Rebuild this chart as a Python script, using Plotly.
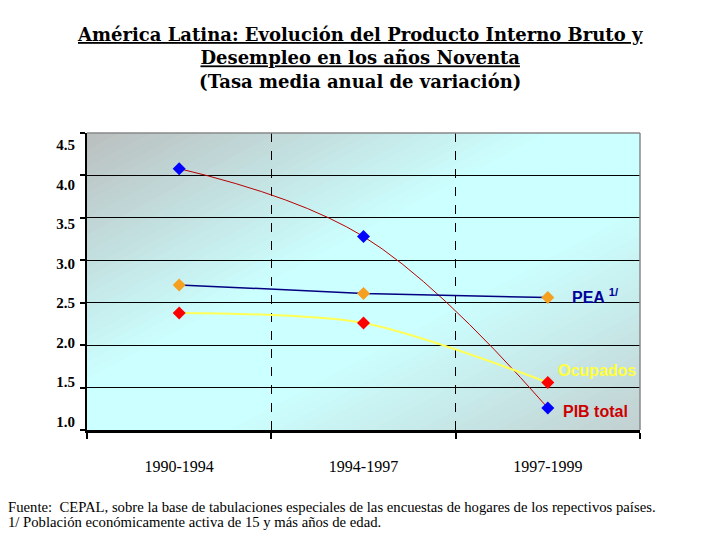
import plotly.graph_objects as go

# ---------------- data ----------------
periods = ["1990-1994", "1994-1997", "1997-1999"]
pib_total = [4.08, 3.28, 1.26]
pea = [2.71, 2.61, 2.56]
ocupados = [2.38, 2.26, 1.56]
ytick_vals = [1.0, 1.5, 2.0, 2.5, 3.0, 3.5, 4.0, 4.5]
ytick_text = ["1.0", "1.5", "2.0", "2.5", "3.0", "3.5", "4.0", "4.5"]

title_lines = [
    "<u>América Latina: Evolución del Producto Interno Bruto y</u>",
    "<u>Desempleo en los años Noventa</u>",
    "(Tasa media anual de variación)",
]
notes = [
    "Fuente:  CEPAL, sobre la base de tabulaciones especiales de las encuestas de hogares de los repectivos países.",
    "1/ Población económicamente activa de 15 y más años de edad.",
]

# ---------------- geometry helpers ----------------
W, H = 720, 540
L, R, T, B = 87, 80, 133, 110
PW, PH = W - L - R, H - T - B


def px(x):
    return (x - L) / PW


def py(y):
    return (H - B - y) / PH


SERIF = "Liberation Serif, Times New Roman, serif"
SANS = "Liberation Sans, Arial, sans-serif"

fig = go.Figure()

# ---------------- background gradient (diagonal) ----------------
stops = [
    (0.00, (186, 190, 190)),
    (0.42, (204, 255, 255)),
    (0.62, (204, 255, 255)),
    (1.00, (194, 208, 208)),
]


def col(t):
    for (t0, c0), (t1, c1) in zip(stops[:-1], stops[1:]):
        if t <= t1:
            f = (t - t0) / (t1 - t0) if t1 > t0 else 0
            c = [round(a + (b - a) * f) for a, b in zip(c0, c1)]
            return "rgb(%d,%d,%d)" % tuple(c)
    return "rgb(%d,%d,%d)" % stops[-1][1]


def clip(poly, fn):
    out = []
    n = len(poly)
    for i in range(n):
        p, q = poly[i], poly[(i + 1) % n]
        fp, fq = fn(p), fn(q)
        if fp >= 0:
            out.append(p)
        if (fp >= 0) != (fq >= 0):
            t = fp / (fp - fq)
            out.append((p[0] + (q[0] - p[0]) * t, p[1] + (q[1] - p[1]) * t))
    return out


square = [(0, 0), (1, 0), (1, 1), (0, 1)]
N = 70
for i in range(N):
    s0 = 2 * i / N
    s1 = 2 * (i + 1) / N + 0.01
    poly = clip(square, lambda p, s0=s0: (p[0] + 1 - p[1]) - s0)
    poly = clip(poly, lambda p, s1=s1: s1 - (p[0] + 1 - p[1]))
    if len(poly) < 3:
        continue
    path = "M " + " L ".join("%.5f,%.5f" % p for p in poly) + " Z"
    fig.add_shape(type="path", path=path, xref="paper", yref="paper",
                  fillcolor=col((2 * i + 1) / (2 * N)), line=dict(width=0),
                  layer="below")

# ---------------- series ----------------
fig.add_trace(go.Scatter(
    x=periods, y=pib_total, mode="lines+markers", name="PIB total",
    line=dict(color="#b80000", width=1, shape="spline", smoothing=1.1),
    marker=dict(symbol="diamond", size=10, color="#0000ff"),
    showlegend=False))
fig.add_trace(go.Scatter(
    x=periods, y=pea, mode="lines+markers", name="PEA",
    line=dict(color="#000080", width=1.5),
    marker=dict(symbol="diamond", size=10, color="#f5a020"),
    showlegend=False))
fig.add_trace(go.Scatter(
    x=periods, y=ocupados, mode="lines+markers", name="Ocupados",
    line=dict(color="#ffff55", width=2, shape="spline", smoothing=0.8),
    marker=dict(symbol="diamond", size=10, color="#ff0000"),
    showlegend=False))
# anchor trace for the tick-label axis
fig.add_trace(go.Scatter(x=[], y=[], yaxis="y2", showlegend=False))

# ---------------- series labels ----------------
fig.add_annotation(x=periods[2], y=pea[2], xref="x", yref="y",
                   text="PEA <sup>1/</sup>", showarrow=False, xanchor="left",
                   xshift=22, yshift=2,
                   font=dict(family=SANS, size=16, color="#000099",
                             weight="bold"))
fig.add_annotation(x=periods[2], y=ocupados[2], xref="x", yref="y",
                   text="Ocupados", showarrow=False, xanchor="left",
                   xshift=8, yshift=12,
                   font=dict(family=SANS, size=16, color="#ffff40",
                             weight="bold"))
fig.add_annotation(x=periods[2], y=pib_total[2], xref="x", yref="y",
                   text="PIB total", showarrow=False, xanchor="left",
                   xshift=13, yshift=-4,
                   font=dict(family=SANS, size=16, color="#cc0000",
                             weight="bold"))

# ---------------- borders ----------------
fig.add_shape(type="line", xref="paper", yref="paper", x0=0, x1=1, y0=1, y1=1,
              line=dict(color="#888888", width=1.5), layer="above")
fig.add_shape(type="line", xref="paper", yref="paper", x0=1, x1=1, y0=0, y1=1,
              line=dict(color="#888888", width=1.5), layer="above")

# ---------------- title & notes ----------------
fig.add_annotation(x=px(360), y=py(58), xref="paper", yref="paper",
                   text="<br>".join(title_lines), showarrow=False,
                   xanchor="center", yanchor="middle", align="center",
                   font=dict(family="DejaVu Serif, serif", size=18,
                             color="black", weight="bold"))
for txt, yc in zip(notes, [507, 522]):
    fig.add_annotation(x=px(6), y=py(yc), xref="paper", yref="paper",
                       text=txt, showarrow=False, xanchor="left",
                       yanchor="middle",
                       font=dict(family=SERIF, size=14.7, color="black"))

fig.update_layout(
    width=W, height=H,
    margin=dict(l=L, r=R, t=T, b=B),
    paper_bgcolor="white",
    plot_bgcolor="rgba(0,0,0,0)",
    xaxis=dict(type="category", categoryorder="array", categoryarray=periods,
               range=[-0.5, 2.5], tickson="boundaries", ticks="outside",
               ticklen=6, tickwidth=2, tickcolor="black",
               showline=True, linecolor="black", linewidth=3,
               showgrid=True, gridcolor="black", gridwidth=1, griddash="dash",
               zeroline=False, ticklabelstandoff=20,
               tickfont=dict(family=SERIF, size=16, color="black")),
    yaxis=dict(range=[1, 4.5], tickvals=ytick_vals, showticklabels=False,
               ticks="outside", ticklen=5, tickwidth=1.5, tickcolor="black",
               showline=True, linecolor="black", linewidth=2,
               showgrid=True, gridcolor="black", gridwidth=1, zeroline=False),
    yaxis2=dict(overlaying="y", side="left", range=[0.8925, 4.652],
                tickvals=ytick_vals, ticktext=ytick_text, ticks="",
                showgrid=False, showline=False, zeroline=False,
                ticklabelstandoff=11,
                tickfont=dict(family=SERIF, size=15, color="black",
                              weight="bold")),
)

fig.write_html("out.html",
               config={"displayModeBar": False},
               post_script="document.body.style.margin='0';")
